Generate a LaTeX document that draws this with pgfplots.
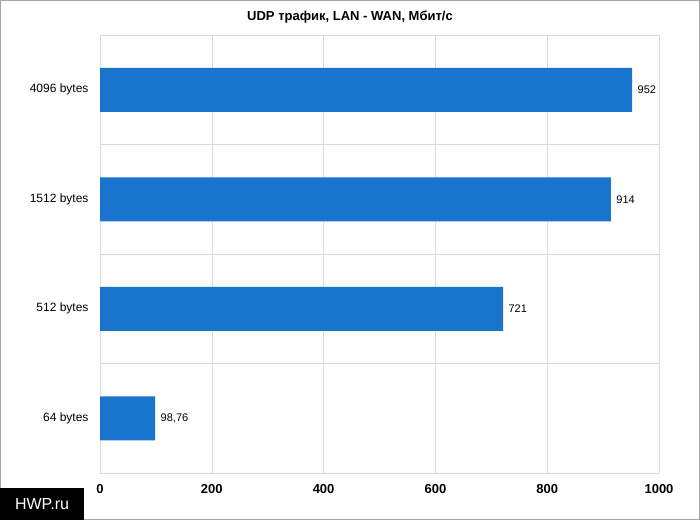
\documentclass[border=0pt]{standalone}
\usepackage{pgfplots}
\pgfplotsset{compat=1.18}
\usepackage{fontspec}
\setmainfont{Liberation Sans}
\definecolor{bar}{HTML}{1874CD}
\definecolor{gridc}{HTML}{D9D9D9}
\begin{document}
\begin{tikzpicture}[x=1pt,y=1pt]
\useasboundingbox (0,0) rectangle (700,520);
\fill[white] (0,0) rectangle (700,520);
\draw[gray!70] (0.5,0.5) rectangle (699.5,519.5);
\node[font=\bfseries\fontsize{13}{15}\selectfont] at (350,503) {UDP трафик, LAN - WAN, Мбит/с};
\begin{axis}[at={(100pt,47pt)},anchor=south west,scale only axis,width=559pt,height=438pt,
  xbar, bar width=44pt, xmin=0,xmax=1000, ymin=-0.5,ymax=3.5,
  xtick={0,200,...,1000}, xmajorgrids, grid style={gridc},
  ytick={0,1,2,3}, yticklabels={64 bytes,512 bytes,1512 bytes,4096 bytes},
  extra y ticks={-0.5,0.5,1.5,2.5,3.5}, extra y tick labels={},
  extra y tick style={grid=major, major tick length=0pt},
  axis line style={gridc}, major tick length=0pt,
  axis x line*=bottom, axis y line*=left,
  ticklabel style={font=\fontsize{12}{14}\selectfont},
  xticklabel style={font=\bfseries\fontsize{13}{15}\selectfont, yshift=-8pt},
  yticklabel style={xshift=-8pt},
  /pgf/number format/assume math mode=true, /pgf/number format/1000 sep={},
  nodes near coords, nodes near coords style={font=\fontsize{11}{13}\selectfont, black, anchor=west, xshift=2pt},
  point meta=explicit symbolic]
\addplot[fill=bar,draw=none] coordinates {(98.76,0)[98,76] (721,1)[721] (914,2)[914] (952,3)[952]};
\end{axis}
\fill[black] (0,0) rectangle (84,32);
\node[white,font=\fontsize{16}{18}\selectfont] at (42,16) {HWP.ru};
\end{tikzpicture}
\end{document}
